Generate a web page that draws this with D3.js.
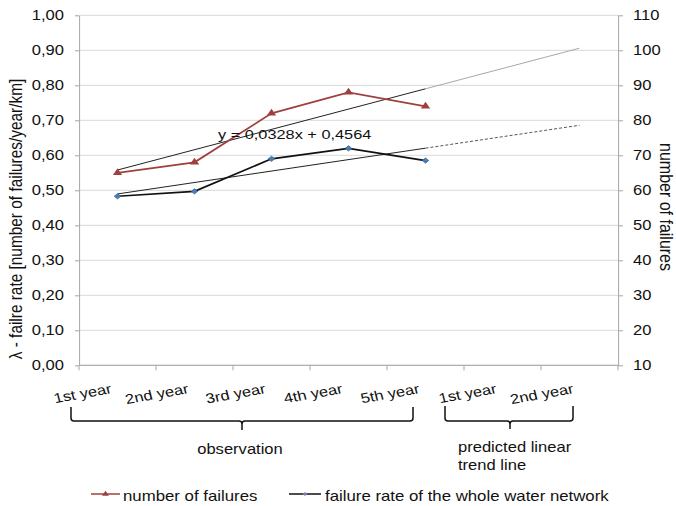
<!DOCTYPE html>
<html>
<head>
<meta charset="utf-8">
<script src="https://cdn.jsdelivr.net/npm/d3@7/dist/d3.min.js"></script>
<style>
  html, body { margin: 0; padding: 0; background: #fff; }
  svg { font-family: "Liberation Sans", Arial, sans-serif; }
  line, path.ln { vector-effect: non-scaling-stroke; }
</style>
</head>
<body>
<div id="chart"></div>
<script>
// categories along the x axis (5 observed years + 2 predicted)
var categories = ["1st year", "2nd year", "3rd year", "4th year", "5th year", "1st year", "2nd year"];
var observedCount = 5;

// series values (observed years only)
var failures = [65, 68, 82, 88, 84];            // right axis, number of failures
var failureRate = [0.483, 0.497, 0.590, 0.620, 0.585]; // left axis, failures/year/km

// tick labels
var leftTicks = [0, 0.1, 0.2, 0.3, 0.4, 0.5, 0.6, 0.7, 0.8, 0.9, 1.0];
var rightTicks = [10, 20, 30, 40, 50, 60, 70, 80, 90, 100, 110];

var equationLabel = "y = 0,0328x + 0,4564";
var leftTitle = "\u03bb - failre rate [number of failures/year/km]";
var rightTitle = "number of failures";
var legendLabels = ["number of failures", "failure rate of the whole water network"];

var width = 676, height = 506;
// the original picture is stretched horizontally, so everything is drawn
// in a narrower space and scaled back out
var SX = 1.2;
var plotLeft = 79, plotRight = 618, plotTop = 15.3, plotBottom = 365.3;

var red = "#a0403e", black = "#111", blue = "#4a7ebb";
var fontColor = "#111";

var svg = d3.select("#chart").append("svg")
  .attr("width", width)
  .attr("height", height);

var g = svg.append("g").attr("transform", "scale(" + SX + ",1)");

var x = d3.scaleBand()
  .domain(d3.range(categories.length))
  .range([plotLeft / SX, plotRight / SX]);

var yL = d3.scaleLinear().domain([0, 1]).range([plotBottom, plotTop]);
var yR = d3.scaleLinear().domain([10, 110]).range([plotBottom, plotTop]);

var cx = function (i) { return x(i) + x.bandwidth() / 2; };

// least squares trend over the observed years (x = 1..n)
function trend(values) {
  var xs = values.map(function (d, i) { return i + 1; });
  var mx = d3.mean(xs), my = d3.mean(values);
  var num = d3.sum(xs, function (v, i) { return (v - mx) * (values[i] - my); });
  var den = d3.sum(xs, function (v) { return (v - mx) * (v - mx); });
  var slope = num / den;
  return { slope: slope, intercept: my - slope * mx };
}

// gridlines
g.append("g").selectAll("line")
  .data(leftTicks)
  .enter().append("line")
  .attr("x1", plotLeft / SX).attr("x2", plotRight / SX)
  .attr("y1", yL).attr("y2", yL)
  .attr("stroke", "#d9d9d9").attr("stroke-width", 1);

var fmt = function (d) { return d3.format(".2f")(d).replace(".", ","); };

// left axis
var axL = g.append("g")
  .attr("transform", "translate(" + (plotLeft / SX) + ",0)")
  .call(d3.axisLeft(yL).tickValues(leftTicks).tickFormat(fmt)
    .tickSize(4 / SX).tickSizeOuter(0).tickPadding(11 / SX));

// right axis
var axR = g.append("g")
  .attr("transform", "translate(" + (plotRight / SX) + ",0)")
  .call(d3.axisRight(yR).tickValues(rightTicks)
    .tickSize(5 / SX).tickSizeOuter(0).tickPadding(10 / SX));

[axL, axR].forEach(function (ax) {
  ax.select(".domain").attr("stroke", "#a6a6a6").attr("class", "domain ln");
  ax.selectAll(".tick line").attr("stroke", "#a6a6a6");
  ax.selectAll(".tick text")
    .attr("fill", fontColor)
    .style("font-size", "13.8px")
    .style("font-family", "'Liberation Sans', Arial, sans-serif");
});

// bottom axis (ticks on the band boundaries)
var xAxis = g.append("g");
xAxis.append("line")
  .attr("x1", plotLeft / SX).attr("x2", plotRight / SX)
  .attr("y1", plotBottom).attr("y2", plotBottom)
  .attr("stroke", "#a6a6a6");
xAxis.selectAll("line.tick")
  .data(d3.range(categories.length + 1))
  .enter().append("line")
  .attr("class", "tick")
  .attr("x1", function (i) { return plotLeft / SX + i * x.step(); })
  .attr("x2", function (i) { return plotLeft / SX + i * x.step(); })
  .attr("y1", plotBottom).attr("y2", plotBottom + 5)
  .attr("stroke", "#a6a6a6");
xAxis.selectAll("text")
  .data(categories)
  .enter().append("text")
  .attr("text-anchor", "end")
  .attr("fill", fontColor)
  .style("font-size", "13.8px")
  .attr("transform", function (d, i) {
    return "translate(" + (cx(i) - 5 / SX) + ",393) rotate(-12)";
  })
  .text(function (d) { return d; });

// trend lines: solid over the observation, then the forecast part
function drawTrend(values, yScale, solidColor, extStyle) {
  var t = trend(values);
  var val = function (i) { return t.slope * (i + 1) + t.intercept; };
  var last = categories.length - 1, lastObs = observedCount - 1;
  g.append("line")
    .attr("x1", cx(0)).attr("y1", yScale(val(0)))
    .attr("x2", cx(lastObs)).attr("y2", yScale(val(lastObs)))
    .attr("stroke", solidColor).attr("stroke-width", 1);
  var ext = g.append("line")
    .attr("x1", cx(lastObs)).attr("y1", yScale(val(lastObs)))
    .attr("x2", cx(last)).attr("y2", yScale(val(last)))
    .attr("stroke", extStyle.color).attr("stroke-width", 1);
  if (extStyle.dash) ext.attr("stroke-dasharray", extStyle.dash);
}

drawTrend(failures, yR, "#222", { color: "#a8a8a8" });
drawTrend(failureRate, yL, "#222", { color: "#555", dash: "3,2" });

// data lines
var line = function (yScale) {
  return d3.line()
    .x(function (d, i) { return cx(i); })
    .y(function (d) { return yScale(d); });
};

g.append("path")
  .datum(failures)
  .attr("class", "ln")
  .attr("fill", "none")
  .attr("stroke", red)
  .attr("stroke-width", 1.75)
  .attr("d", line(yR));

g.append("path")
  .datum(failureRate)
  .attr("class", "ln")
  .attr("fill", "none")
  .attr("stroke", black)
  .attr("stroke-width", 1.75)
  .attr("d", line(yL));

var tri = d3.symbol().type(d3.symbolTriangle).size(26);
var dia = d3.symbol().type(d3.symbolSquare).size(14);

g.selectAll("path.tri")
  .data(failures)
  .enter().append("path")
  .attr("class", "tri")
  .attr("d", tri)
  .attr("fill", red)
  .attr("transform", function (d, i) {
    return "translate(" + cx(i) + "," + yR(d) + ")";
  });

g.selectAll("path.dia")
  .data(failureRate)
  .enter().append("path")
  .attr("class", "dia")
  .attr("d", dia)
  .attr("fill", blue)
  .attr("stroke", "#2f5f96")
  .attr("stroke-width", 0.6)
  .attr("transform", function (d, i) {
    return "translate(" + cx(i) + "," + yL(d) + ") rotate(45)";
  });

// equation of the failure-rate trend
g.append("text")
  .attr("x", 218 / SX).attr("y", 139)
  .attr("fill", fontColor)
  .style("font-size", "13.6px")
  .text(equationLabel);

// axis titles
g.append("text")
  .attr("transform", "translate(" + (22 / SX) + ",219) rotate(-90)")
  .attr("text-anchor", "middle")
  .attr("fill", fontColor)
  .style("font-size", "15.4px")
  .text(leftTitle);

g.append("text")
  .attr("transform", "translate(" + (660 / SX) + ",207) rotate(90)")
  .attr("text-anchor", "middle")
  .attr("fill", fontColor)
  .style("font-size", "16px")
  .text(rightTitle);

// curly braces under the labels
function brace(x0, x1, xm, y0, yb, yt) {
  var r = 3;
  return "M" + x0 + "," + y0 + "V" + (yb - r) +
    "Q" + x0 + "," + yb + " " + (x0 + r / SX) + "," + yb +
    "H" + (xm - r / SX) +
    "Q" + xm + "," + yb + " " + xm + "," + (yb + r) +
    "V" + yt +
    "M" + xm + "," + (yb + r) +
    "Q" + xm + "," + yb + " " + (xm + r / SX) + "," + yb +
    "H" + (x1 - r / SX) +
    "Q" + x1 + "," + yb + " " + x1 + "," + (yb - r) +
    "V" + y0;
}

g.append("path")
  .attr("class", "ln")
  .attr("fill", "none").attr("stroke", "#111").attr("stroke-width", 1.5)
  .attr("d", brace(71 / SX, 413 / SX, 242 / SX, 407, 421, 430));

g.append("path")
  .attr("class", "ln")
  .attr("fill", "none").attr("stroke", "#111").attr("stroke-width", 1.5)
  .attr("d", brace(445 / SX, 573 / SX, 510 / SX, 406, 421, 429));

g.append("text")
  .attr("x", 240 / SX).attr("y", 454)
  .attr("text-anchor", "middle")
  .attr("fill", fontColor)
  .style("font-size", "13.8px")
  .text("observation");

g.append("text")
  .attr("x", 458 / SX).attr("y", 452)
  .attr("fill", fontColor)
  .style("font-size", "13.8px")
  .text("predicted linear");

g.append("text")
  .attr("x", 458 / SX).attr("y", 470)
  .attr("fill", fontColor)
  .style("font-size", "13.8px")
  .text("trend line");

// legend
var legend = g.append("g");
legend.append("line")
  .attr("x1", 91 / SX).attr("x2", 120 / SX)
  .attr("y1", 494).attr("y2", 494)
  .attr("stroke", red).attr("stroke-width", 1.5);
legend.append("path")
  .attr("d", d3.symbol().type(d3.symbolTriangle).size(14))
  .attr("fill", red)
  .attr("transform", "translate(" + (105.5 / SX) + ",494)");
legend.append("text")
  .attr("x", 123 / SX).attr("y", 501)
  .attr("fill", fontColor)
  .style("font-size", "14px")
  .text(legendLabels[0]);

legend.append("line")
  .attr("x1", 289 / SX).attr("x2", 321 / SX)
  .attr("y1", 494).attr("y2", 494)
  .attr("stroke", black).attr("stroke-width", 1.5);
legend.append("path")
  .attr("d", d3.symbol().type(d3.symbolSquare).size(8))
  .attr("fill", "#8a7cc4")
  .attr("transform", "translate(" + (305 / SX) + ",494) rotate(45)");
legend.append("text")
  .attr("x", 325 / SX).attr("y", 501)
  .attr("fill", fontColor)
  .style("font-size", "14px")
  .text(legendLabels[1]);
</script>
</body>
</html>
